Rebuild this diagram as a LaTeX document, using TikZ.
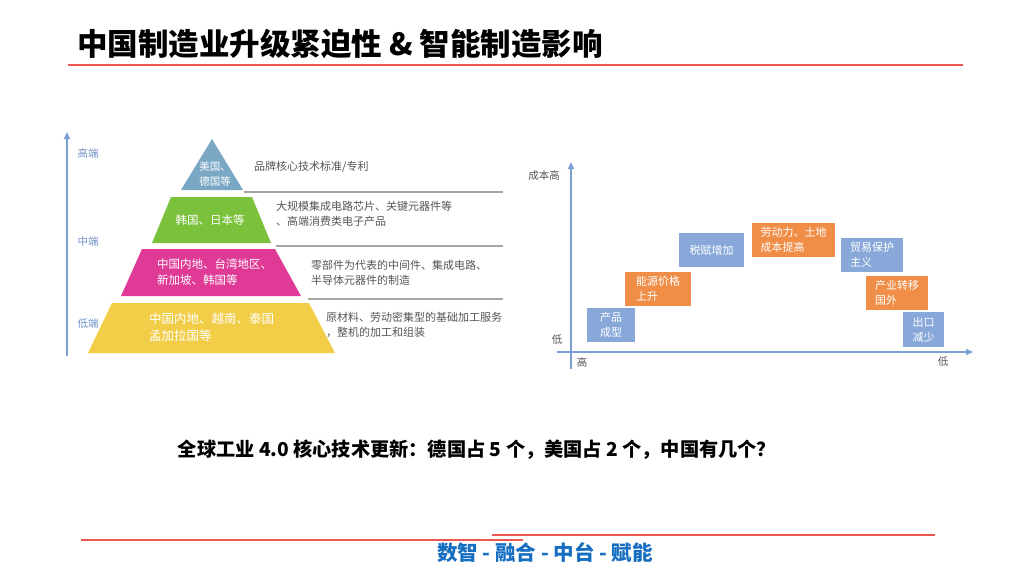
\documentclass[tikz,border=0pt]{standalone}
\usepackage{fontspec}
\setmainfont{Noto Sans CJK SC}
\usetikzlibrary{arrows.meta}

\definecolor{linered}{RGB}{236,86,80}
\definecolor{axisblue}{RGB}{125,160,212}
\definecolor{labelblue}{RGB}{110,145,200}
\definecolor{topblue}{RGB}{122,167,196}
\definecolor{pyrgreen}{RGB}{124,193,60}
\definecolor{pyrmagenta}{RGB}{222,58,150}
\definecolor{pyryellow}{RGB}{241,205,72}
\definecolor{boxblue}{RGB}{135,168,216}
\definecolor{boxorange}{RGB}{240,142,72}
\definecolor{footblue}{RGB}{22,110,192}
\definecolor{sepgray}{RGB}{165,165,165}
\definecolor{descgray}{RGB}{85,85,85}

\tikzset{
  axisline/.style={draw=axisblue, line width=1.6, -{Triangle[length=7,width=6]}},
  sepline/.style={draw=sepgray, line width=1.1},
  redline/.style={draw=linered, line width=2.2},
  desctext/.style={anchor=west, align=left, inner sep=0, text=descgray,
    font=\fontsize{11}{14.5}\selectfont},
  pyrtext/.style={inner sep=0, text=white, align=center,
    font=\fontsize{11.5}{16}\selectfont},
  endlabel/.style={inner sep=0, text=labelblue, font=\fontsize{10.5}{12}\selectfont},
  axislabel/.style={inner sep=0, text=descgray, font=\fontsize{10.5}{12}\selectfont},
  costbox/.style={rectangle, minimum height=34, inner sep=0, text=white,
    align=left, font=\fontsize{11}{15}\selectfont},
}

\begin{document}
\begin{tikzpicture}[x=1pt,y=1pt,yscale=-1,xscale=1]
\useasboundingbox (0,0) rectangle (1024,576);

% Title
\node (title) [anchor=west, inner sep=0, font=\fontsize{30.5}{33}\selectfont\bfseries] at (77,44) {中国制造业升级紧迫性 \& 智能制造影响};
\coordinate (tl0) at (68,65);
\coordinate (tl1) at (963,65);
\draw [redline] (tl0) -- (tl1);

% Left axis
\coordinate (la0) at (67,356);
\coordinate (la1) at (67,132);
\draw [axisline] (la0) -- (la1);
\node (high) [endlabel] at (88,153) {高端};
\node (mid) [endlabel] at (88,242) {中端};
\node (low) [endlabel] at (88,324) {低端};

% Pyramid
\fill [topblue] (212,139) -- (243,190) -- (181,190) -- cycle;
\fill [pyrgreen] (171,197) -- (252,197) -- (271,243) -- (152,243) -- cycle;
\fill [pyrmagenta] (142,249) -- (275,249) -- (301,296) -- (121,296) -- cycle;
\fill [pyryellow] (112,303) -- (309,303) -- (335,353) -- (88,353) -- cycle;
\node (usde) [pyrtext, font=\fontsize{10.5}{15}\selectfont] at (215,174) {美国、\\德国等};
\node (krjp) [pyrtext] at (210,220) {韩国、日本等};
\node (cntw) [pyrtext, align=left, anchor=west] at (157,272) {中国内地、台湾地区、\\新加坡、韩国等};
\node (cnvn) [pyrtext, align=left, anchor=west, font=\fontsize{12.5}{17}\selectfont] at (149,327) {中国内地、越南、泰国\\孟加拉国等};

% Separators
\coordinate (s1a) at (244,192);
\coordinate (s1b) at (503,192);
\coordinate (s2a) at (276,246);
\coordinate (s2b) at (503,246);
\coordinate (s3a) at (308,299);
\coordinate (s3b) at (503,299);
\draw [sepline] (s1a) -- (s1b);
\draw [sepline] (s2a) -- (s2b);
\draw [sepline] (s3a) -- (s3b);

% Descriptions
\node (d1) [desctext] at (254,167) {品牌核心技术标准/专利};
\node (d2) [desctext] at (276,214) {大规模集成电路芯片、关键元器件等\\、高端消费类电子产品};
\node (d3) [desctext] at (311,273) {零部件为代表的中间件、集成电路、\\半导体元器件的制造};
\node (d4) [desctext] at (326,325) {原材料、劳动密集型的基础加工服务\\，整机的加工和组装};

% Right chart axes
\coordinate (ry0) at (571,369);
\coordinate (ry1) at (571,162);
\coordinate (rx0) at (557,352);
\coordinate (rx1) at (973,352);
\draw [axisline] (ry0) -- (ry1);
\draw [axisline] (rx0) -- (rx1);
\node (costhigh) [axislabel] at (544,176) {成本高};
\node (ylow) [axislabel] at (557,340) {低};
\node (xhigh) [axislabel] at (582,362) {高};
\node (xlow) [axislabel] at (943,362) {低};

% Cost boxes
\node (shape) [costbox, fill=boxblue, minimum width=48, align=center] at (611,325) {产品\\成型};
\node (energy) [costbox, fill=boxorange, minimum width=66] at (658,288.5) {能源价格\\上升};
\node (tax) [costbox, fill=boxblue, minimum width=65] at (711.5,250) {税赋增加};
\node (labor) [costbox, fill=boxorange, minimum width=83] at (793.5,240) {劳动力、土地\\成本提高};
\node (trade) [costbox, fill=boxblue, minimum width=62] at (872,255) {贸易保护\\主义};
\node (move) [costbox, fill=boxorange, minimum width=62] at (897,293) {产业转移\\国外};
\node (export) [costbox, fill=boxblue, minimum width=41, minimum height=35] at (923.5,329.5) {出口\\减少};

% Question
\node (question) [inner sep=0, font=\fontsize{19.2}{21}\selectfont\bfseries] at (477,450) {全球工业 4.0 核心技术更新：德国占 5 个，美国占 2 个，中国有几个？};

% Footer
\coordinate (f1a) at (81,540);
\coordinate (f1b) at (523,540);
\coordinate (f2a) at (492,535);
\coordinate (f2b) at (935,535);
\draw [redline] (f1a) -- (f1b);
\draw [redline] (f2a) -- (f2b);
\node (footer) [inner sep=0, text=footblue, font=\fontsize{20.5}{23}\selectfont\bfseries] at (545,553) {数智 - 融合 - 中台 - 赋能};

\end{tikzpicture}
\end{document}
